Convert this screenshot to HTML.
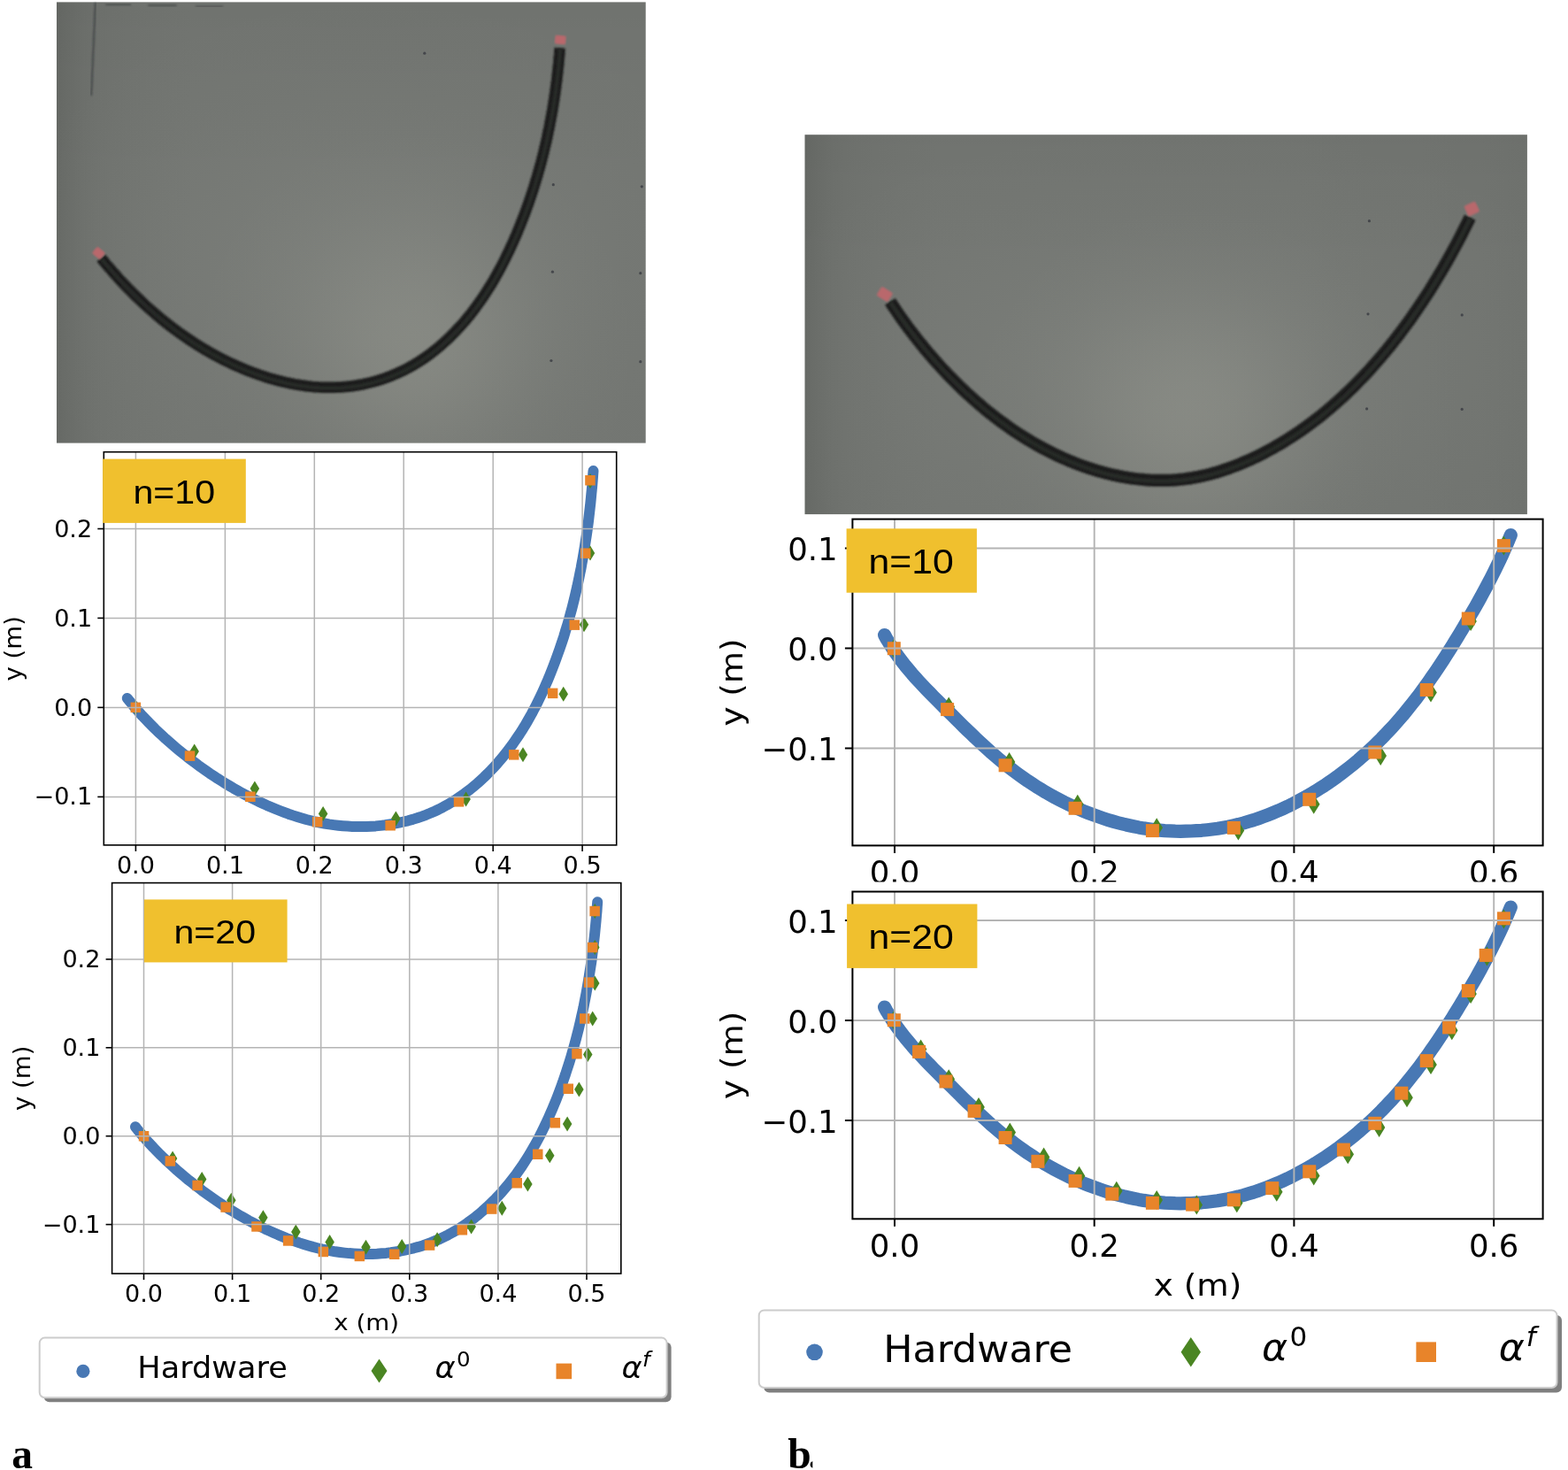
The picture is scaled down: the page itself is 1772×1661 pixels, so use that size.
<!DOCTYPE html>
<html lang="en"><head><meta charset="utf-8"><title>Figure</title>
<style>html,body{margin:0;padding:0;background:#fff}body{width:1772px;height:1661px;overflow:hidden;position:relative}svg{display:block;position:absolute;left:0;top:0}</style>
</head><body>
<svg width="1772" height="1661" viewBox="0 0 1772 1661">
<defs>
<filter id="soft" x="-5%" y="-5%" width="110%" height="110%"><feGaussianBlur stdDeviation="0.8"/></filter><filter id="soft2" x="-5%" y="-5%" width="110%" height="110%"><feGaussianBlur stdDeviation="1.0"/></filter>
<linearGradient id="pag1" x1="0" y1="0" x2="1" y2="0"><stop offset="0.0000" stop-color="#666965"/><stop offset="0.0150" stop-color="#696c68"/><stop offset="0.0300" stop-color="#6b6e6a"/><stop offset="0.0451" stop-color="#6d706c"/><stop offset="0.0676" stop-color="#6f726e"/><stop offset="0.0901" stop-color="#70736f"/><stop offset="0.1202" stop-color="#717470"/><stop offset="0.1652" stop-color="#727571"/><stop offset="0.2253" stop-color="#737672"/><stop offset="0.3004" stop-color="#737672"/><stop offset="0.3906" stop-color="#737672"/><stop offset="0.5107" stop-color="#737672"/><stop offset="0.6000" stop-color="#737672"/><stop offset="0.6094" stop-color="#737672"/><stop offset="0.7296" stop-color="#737672"/><stop offset="0.8197" stop-color="#737672"/><stop offset="0.8798" stop-color="#737672"/><stop offset="0.9249" stop-color="#737672"/><stop offset="0.9624" stop-color="#737672"/><stop offset="1.0000" stop-color="#737672"/></linearGradient>
<radialGradient id="pag2" gradientUnits="userSpaceOnUse" cx="470" cy="395" r="270"><stop offset="0.000" stop-color="#b8b9ac" stop-opacity="0.210"/><stop offset="0.083" stop-color="#b8b9ac" stop-opacity="0.203"/><stop offset="0.167" stop-color="#b8b9ac" stop-opacity="0.185"/><stop offset="0.250" stop-color="#b8b9ac" stop-opacity="0.158"/><stop offset="0.333" stop-color="#b8b9ac" stop-opacity="0.126"/><stop offset="0.417" stop-color="#b8b9ac" stop-opacity="0.095"/><stop offset="0.500" stop-color="#b8b9ac" stop-opacity="0.067"/><stop offset="0.583" stop-color="#b8b9ac" stop-opacity="0.044"/><stop offset="0.667" stop-color="#b8b9ac" stop-opacity="0.026"/><stop offset="0.750" stop-color="#b8b9ac" stop-opacity="0.015"/><stop offset="0.833" stop-color="#b8b9ac" stop-opacity="0.007"/><stop offset="0.917" stop-color="#b8b9ac" stop-opacity="0.002"/><stop offset="1.000" stop-color="#b8b9ac" stop-opacity="0.000"/></radialGradient>
<linearGradient id="pag3" x1="0" y1="0" x2="0" y2="1"><stop offset="0.000" stop-color="#000" stop-opacity="0.030"/><stop offset="0.040" stop-color="#000" stop-opacity="0.024"/><stop offset="0.080" stop-color="#000" stop-opacity="0.019"/><stop offset="0.141" stop-color="#000" stop-opacity="0.014"/><stop offset="0.221" stop-color="#000" stop-opacity="0.009"/><stop offset="0.321" stop-color="#000" stop-opacity="0.005"/><stop offset="0.462" stop-color="#000" stop-opacity="0.002"/><stop offset="0.643" stop-color="#000" stop-opacity="0.001"/><stop offset="1" stop-color="#000" stop-opacity="0"/></linearGradient>
<radialGradient id="pag4" gradientUnits="userSpaceOnUse" cx="420" cy="300" r="420" gradientTransform="translate(420 300) scale(1.2 0.85) translate(-420 -300)"><stop offset="0.000" stop-color="#c0c2ba" stop-opacity="0.100"/><stop offset="0.083" stop-color="#c0c2ba" stop-opacity="0.097"/><stop offset="0.167" stop-color="#c0c2ba" stop-opacity="0.088"/><stop offset="0.250" stop-color="#c0c2ba" stop-opacity="0.075"/><stop offset="0.333" stop-color="#c0c2ba" stop-opacity="0.060"/><stop offset="0.417" stop-color="#c0c2ba" stop-opacity="0.045"/><stop offset="0.500" stop-color="#c0c2ba" stop-opacity="0.032"/><stop offset="0.583" stop-color="#c0c2ba" stop-opacity="0.021"/><stop offset="0.667" stop-color="#c0c2ba" stop-opacity="0.013"/><stop offset="0.750" stop-color="#c0c2ba" stop-opacity="0.007"/><stop offset="0.833" stop-color="#c0c2ba" stop-opacity="0.003"/><stop offset="0.917" stop-color="#c0c2ba" stop-opacity="0.001"/><stop offset="1.000" stop-color="#c0c2ba" stop-opacity="0.000"/></radialGradient>
<linearGradient id="pbg1" x1="0" y1="0" x2="1" y2="0"><stop offset="0.0000" stop-color="#666965"/><stop offset="0.0122" stop-color="#696c68"/><stop offset="0.0245" stop-color="#6b6e6a"/><stop offset="0.0367" stop-color="#6d706c"/><stop offset="0.0551" stop-color="#6f726e"/><stop offset="0.0735" stop-color="#70736f"/><stop offset="0.0980" stop-color="#717470"/><stop offset="0.1347" stop-color="#727571"/><stop offset="0.1837" stop-color="#737672"/><stop offset="0.2450" stop-color="#737672"/><stop offset="0.3185" stop-color="#737672"/><stop offset="0.4165" stop-color="#737672"/><stop offset="0.6000" stop-color="#737672"/><stop offset="0.6815" stop-color="#737672"/><stop offset="0.7795" stop-color="#727571"/><stop offset="0.8530" stop-color="#727571"/><stop offset="0.9020" stop-color="#717470"/><stop offset="0.9388" stop-color="#717470"/><stop offset="0.9694" stop-color="#70736f"/><stop offset="1.0000" stop-color="#6f726e"/></linearGradient>
<radialGradient id="pbg2" gradientUnits="userSpaceOnUse" cx="1345" cy="480" r="270"><stop offset="0.000" stop-color="#b8b9ac" stop-opacity="0.210"/><stop offset="0.083" stop-color="#b8b9ac" stop-opacity="0.203"/><stop offset="0.167" stop-color="#b8b9ac" stop-opacity="0.185"/><stop offset="0.250" stop-color="#b8b9ac" stop-opacity="0.158"/><stop offset="0.333" stop-color="#b8b9ac" stop-opacity="0.126"/><stop offset="0.417" stop-color="#b8b9ac" stop-opacity="0.095"/><stop offset="0.500" stop-color="#b8b9ac" stop-opacity="0.067"/><stop offset="0.583" stop-color="#b8b9ac" stop-opacity="0.044"/><stop offset="0.667" stop-color="#b8b9ac" stop-opacity="0.026"/><stop offset="0.750" stop-color="#b8b9ac" stop-opacity="0.015"/><stop offset="0.833" stop-color="#b8b9ac" stop-opacity="0.007"/><stop offset="0.917" stop-color="#b8b9ac" stop-opacity="0.002"/><stop offset="1.000" stop-color="#b8b9ac" stop-opacity="0.000"/></radialGradient>
<linearGradient id="pbg3" x1="0" y1="0" x2="0" y2="1"><stop offset="0.000" stop-color="#000" stop-opacity="0.025"/><stop offset="0.047" stop-color="#000" stop-opacity="0.019"/><stop offset="0.093" stop-color="#000" stop-opacity="0.014"/><stop offset="0.163" stop-color="#000" stop-opacity="0.009"/><stop offset="0.256" stop-color="#000" stop-opacity="0.005"/><stop offset="0.373" stop-color="#000" stop-opacity="0.003"/><stop offset="0.536" stop-color="#000" stop-opacity="0.001"/><stop offset="0.746" stop-color="#000" stop-opacity="0.000"/><stop offset="1" stop-color="#000" stop-opacity="0"/></linearGradient>
<radialGradient id="pbg4" gradientUnits="userSpaceOnUse" cx="1330" cy="410" r="420" gradientTransform="translate(1330 410) scale(1.45 0.75) translate(-1330 -410)"><stop offset="0.000" stop-color="#c0c2ba" stop-opacity="0.100"/><stop offset="0.083" stop-color="#c0c2ba" stop-opacity="0.097"/><stop offset="0.167" stop-color="#c0c2ba" stop-opacity="0.088"/><stop offset="0.250" stop-color="#c0c2ba" stop-opacity="0.075"/><stop offset="0.333" stop-color="#c0c2ba" stop-opacity="0.060"/><stop offset="0.417" stop-color="#c0c2ba" stop-opacity="0.045"/><stop offset="0.500" stop-color="#c0c2ba" stop-opacity="0.032"/><stop offset="0.583" stop-color="#c0c2ba" stop-opacity="0.021"/><stop offset="0.667" stop-color="#c0c2ba" stop-opacity="0.013"/><stop offset="0.750" stop-color="#c0c2ba" stop-opacity="0.007"/><stop offset="0.833" stop-color="#c0c2ba" stop-opacity="0.003"/><stop offset="0.917" stop-color="#c0c2ba" stop-opacity="0.001"/><stop offset="1.000" stop-color="#c0c2ba" stop-opacity="0.000"/></radialGradient>
</defs>
<rect width="1772" height="1661" fill="#fff"/>
<g>
<rect x="64" y="2.4" width="665.7" height="498.20000000000005" fill="url(#pag1)"/>
<rect x="64" y="2.4" width="665.7" height="498.20000000000005" fill="url(#pag2)"/>
<rect x="64" y="2.4" width="665.7" height="498.20000000000005" fill="url(#pag3)"/>
<rect x="64" y="2.4" width="665.7" height="498.20000000000005" fill="url(#pag4)"/>
<line x1="107.8" y1="3" x2="103.2" y2="108" stroke="#2a2c30" stroke-width="1.4" opacity="0.8" filter="url(#soft)"/><path d="M119.5,5 H148 M167.5,6 H199.5 M221,7.3 H252" stroke="#2e3034" stroke-width="1.8" opacity="0.55" fill="none" filter="url(#soft)"/>
<circle cx="479.8" cy="60.2" r="1.6" fill="#3c3e44" opacity="0.85"/>
<circle cx="625.3" cy="208.7" r="1.6" fill="#3c3e44" opacity="0.85"/>
<circle cx="624.4" cy="307.2" r="1.6" fill="#3c3e44" opacity="0.85"/>
<circle cx="622.9" cy="407.5" r="1.6" fill="#3c3e44" opacity="0.85"/>
<circle cx="725.3" cy="210.8" r="1.6" fill="#3c3e44" opacity="0.85"/>
<circle cx="723.8" cy="308.7" r="1.6" fill="#3c3e44" opacity="0.85"/>
<circle cx="723.8" cy="408.7" r="1.6" fill="#3c3e44" opacity="0.85"/>
<path d="M114.3,291.6 L116.9,294.8 L119.5,298.0 L122.2,301.1 L124.9,304.2 L127.6,307.3 L130.3,310.3 L133.0,313.4 L135.8,316.4 L138.6,319.4 L141.4,322.3 L144.2,325.3 L147.1,328.2 L150.0,331.1 L152.9,334.0 L155.8,336.8 L158.7,339.6 L161.7,342.4 L164.7,345.2 L167.7,347.9 L170.8,350.6 L173.9,353.3 L177.0,356.0 L180.1,358.6 L183.2,361.2 L186.4,363.7 L189.6,366.2 L192.8,368.7 L196.1,371.2 L199.3,373.6 L202.6,376.0 L206.0,378.4 L209.3,380.7 L212.7,383.0 L216.1,385.3 L219.5,387.5 L222.9,389.7 L226.4,391.8 L229.9,394.0 L233.4,396.0 L237.0,398.1 L240.5,400.1 L244.1,402.0 L247.8,404.0 L251.4,405.8 L255.1,407.7 L258.8,409.5 L262.5,411.2 L266.3,413.0 L270.0,414.6 L273.8,416.2 L277.6,417.8 L281.5,419.3 L285.3,420.8 L289.2,422.2 L293.1,423.6 L297.0,424.9 L300.9,426.2 L304.9,427.4 L308.8,428.5 L312.8,429.6 L316.8,430.6 L320.8,431.6 L324.8,432.5 L328.8,433.3 L332.8,434.1 L336.8,434.8 L340.8,435.4 L344.9,436.0 L348.9,436.5 L353.0,436.9 L357.0,437.2 L361.1,437.5 L365.1,437.7 L369.2,437.8 L373.2,437.8 L377.3,437.8 L381.3,437.6 L385.4,437.4 L389.4,437.1 L393.4,436.7 L397.5,436.2 L401.5,435.7 L405.5,435.0 L409.5,434.3 L413.5,433.4 L417.5,432.5 L421.4,431.5 L425.3,430.4 L429.3,429.2 L433.2,428.0 L437.0,426.6 L440.9,425.2 L444.7,423.6 L448.4,422.0 L452.2,420.3 L455.8,418.6 L459.5,416.7 L463.1,414.8 L466.7,412.8 L470.2,410.7 L473.7,408.5 L477.1,406.3 L480.5,404.0 L483.8,401.6 L487.1,399.2 L490.3,396.6 L493.5,394.1 L496.7,391.5 L499.8,388.8 L502.8,386.0 L505.8,383.3 L508.8,380.4 L511.7,377.5 L514.6,374.6 L517.4,371.6 L520.2,368.6 L522.9,365.6 L525.6,362.5 L528.2,359.3 L530.8,356.2 L533.3,352.9 L535.8,349.7 L538.2,346.4 L540.6,343.1 L543.0,339.8 L545.3,336.4 L547.6,333.0 L549.8,329.6 L552.0,326.1 L554.2,322.7 L556.3,319.2 L558.4,315.6 L560.4,312.1 L562.4,308.5 L564.4,304.9 L566.3,301.3 L568.2,297.7 L570.1,294.0 L571.9,290.3 L573.7,286.6 L575.5,282.9 L577.2,279.2 L578.9,275.5 L580.6,271.7 L582.2,268.0 L583.9,264.2 L585.4,260.4 L587.0,256.6 L588.5,252.9 L590.0,249.0 L591.5,245.2 L593.0,241.4 L594.4,237.6 L595.8,233.7 L597.2,229.9 L598.5,226.0 L599.8,222.2 L601.1,218.3 L602.4,214.4 L603.6,210.5 L604.8,206.6 L606.0,202.7 L607.2,198.8 L608.3,194.9 L609.4,191.0 L610.5,187.0 L611.6,183.1 L612.6,179.1 L613.6,175.2 L614.6,171.2 L615.5,167.2 L616.5,163.3 L617.4,159.3 L618.3,155.3 L619.1,151.3 L619.9,147.3 L620.8,143.3 L621.5,139.3 L622.3,135.3 L623.0,131.3 L623.8,127.3 L624.5,123.2 L625.1,119.2 L625.8,115.2 L626.4,111.1 L627.0,107.1 L627.6,103.0 L628.1,99.0 L628.6,94.9 L629.2,90.9 L629.6,86.8 L630.1,82.7 L630.5,78.7 L631.0,74.6 L631.4,70.5 L631.7,66.4 L632.1,62.3 L632.4,58.3 L632.7,54.2" fill="none" stroke="#1a1c1b" stroke-width="12.5" stroke-linecap="butt" stroke-linejoin="round" filter="url(#soft2)"/>
<path d="M114.3,291.6 L116.9,294.8 L119.5,298.0 L122.2,301.1 L124.9,304.2 L127.6,307.3 L130.3,310.3 L133.0,313.4 L135.8,316.4 L138.6,319.4 L141.4,322.3 L144.2,325.3 L147.1,328.2 L150.0,331.1 L152.9,334.0 L155.8,336.8 L158.7,339.6 L161.7,342.4 L164.7,345.2 L167.7,347.9 L170.8,350.6 L173.9,353.3 L177.0,356.0 L180.1,358.6 L183.2,361.2 L186.4,363.7 L189.6,366.2 L192.8,368.7 L196.1,371.2 L199.3,373.6 L202.6,376.0 L206.0,378.4 L209.3,380.7 L212.7,383.0 L216.1,385.3 L219.5,387.5 L222.9,389.7 L226.4,391.8 L229.9,394.0 L233.4,396.0 L237.0,398.1 L240.5,400.1 L244.1,402.0 L247.8,404.0 L251.4,405.8 L255.1,407.7 L258.8,409.5 L262.5,411.2 L266.3,413.0 L270.0,414.6 L273.8,416.2 L277.6,417.8 L281.5,419.3 L285.3,420.8 L289.2,422.2 L293.1,423.6 L297.0,424.9 L300.9,426.2 L304.9,427.4 L308.8,428.5 L312.8,429.6 L316.8,430.6 L320.8,431.6 L324.8,432.5 L328.8,433.3 L332.8,434.1 L336.8,434.8 L340.8,435.4 L344.9,436.0 L348.9,436.5 L353.0,436.9 L357.0,437.2 L361.1,437.5 L365.1,437.7 L369.2,437.8 L373.2,437.8 L377.3,437.8 L381.3,437.6 L385.4,437.4 L389.4,437.1 L393.4,436.7 L397.5,436.2 L401.5,435.7 L405.5,435.0 L409.5,434.3 L413.5,433.4 L417.5,432.5 L421.4,431.5 L425.3,430.4 L429.3,429.2 L433.2,428.0 L437.0,426.6 L440.9,425.2 L444.7,423.6 L448.4,422.0 L452.2,420.3 L455.8,418.6 L459.5,416.7 L463.1,414.8 L466.7,412.8 L470.2,410.7 L473.7,408.5 L477.1,406.3 L480.5,404.0 L483.8,401.6 L487.1,399.2 L490.3,396.6 L493.5,394.1 L496.7,391.5 L499.8,388.8 L502.8,386.0 L505.8,383.3 L508.8,380.4 L511.7,377.5 L514.6,374.6 L517.4,371.6 L520.2,368.6 L522.9,365.6 L525.6,362.5 L528.2,359.3 L530.8,356.2 L533.3,352.9 L535.8,349.7 L538.2,346.4 L540.6,343.1 L543.0,339.8 L545.3,336.4 L547.6,333.0 L549.8,329.6 L552.0,326.1 L554.2,322.7 L556.3,319.2 L558.4,315.6 L560.4,312.1 L562.4,308.5 L564.4,304.9 L566.3,301.3 L568.2,297.7 L570.1,294.0 L571.9,290.3 L573.7,286.6 L575.5,282.9 L577.2,279.2 L578.9,275.5 L580.6,271.7 L582.2,268.0 L583.9,264.2 L585.4,260.4 L587.0,256.6 L588.5,252.9 L590.0,249.0 L591.5,245.2 L593.0,241.4 L594.4,237.6 L595.8,233.7 L597.2,229.9 L598.5,226.0 L599.8,222.2 L601.1,218.3 L602.4,214.4 L603.6,210.5 L604.8,206.6 L606.0,202.7 L607.2,198.8 L608.3,194.9 L609.4,191.0 L610.5,187.0 L611.6,183.1 L612.6,179.1 L613.6,175.2 L614.6,171.2 L615.5,167.2 L616.5,163.3 L617.4,159.3 L618.3,155.3 L619.1,151.3 L619.9,147.3 L620.8,143.3 L621.5,139.3 L622.3,135.3 L623.0,131.3 L623.8,127.3 L624.5,123.2 L625.1,119.2 L625.8,115.2 L626.4,111.1 L627.0,107.1 L627.6,103.0 L628.1,99.0 L628.6,94.9 L629.2,90.9 L629.6,86.8 L630.1,82.7 L630.5,78.7 L631.0,74.6 L631.4,70.5 L631.7,66.4 L632.1,62.3 L632.4,58.3 L632.7,54.2" fill="none" stroke="#262927" stroke-width="4.4" stroke-linecap="butt" stroke-linejoin="round" filter="url(#soft2)" transform="translate(0.4,0.8)"/>
<rect x="-6.0" y="-5.0" width="12" height="10" rx="2" fill="#b9686c" transform="translate(111.5,286) rotate(40)" filter="url(#soft)"/>
<rect x="-6.25" y="-5.0" width="12.5" height="10" rx="2" fill="#b9686c" transform="translate(633.3,45) rotate(5)" filter="url(#soft)"/>
</g>
<g>
<rect x="909.5" y="152.2" width="816.4000000000001" height="428.90000000000003" fill="url(#pbg1)"/>
<rect x="909.5" y="152.2" width="816.4000000000001" height="428.90000000000003" fill="url(#pbg2)"/>
<rect x="909.5" y="152.2" width="816.4000000000001" height="428.90000000000003" fill="url(#pbg3)"/>
<rect x="909.5" y="152.2" width="816.4000000000001" height="428.90000000000003" fill="url(#pbg4)"/>

<circle cx="1547.4" cy="249.7" r="1.6" fill="#3c3e44" opacity="0.85"/>
<circle cx="1546" cy="354.8" r="1.6" fill="#3c3e44" opacity="0.85"/>
<circle cx="1544.6" cy="461.9" r="1.6" fill="#3c3e44" opacity="0.85"/>
<circle cx="1652.2" cy="355.9" r="1.6" fill="#3c3e44" opacity="0.85"/>
<circle cx="1652.2" cy="462.4" r="1.6" fill="#3c3e44" opacity="0.85"/>
<path d="M1006.0,340.8 L1008.2,344.3 L1010.6,347.8 L1012.9,351.2 L1015.3,354.7 L1017.7,358.2 L1020.1,361.6 L1022.6,365.0 L1025.1,368.5 L1027.7,371.9 L1030.3,375.3 L1032.9,378.7 L1035.5,382.1 L1038.2,385.5 L1040.9,388.8 L1043.6,392.2 L1046.3,395.5 L1049.1,398.8 L1052.0,402.1 L1054.8,405.4 L1057.7,408.7 L1060.6,411.9 L1063.5,415.1 L1066.5,418.3 L1069.5,421.5 L1072.5,424.7 L1075.6,427.8 L1078.7,430.9 L1081.8,434.0 L1084.9,437.1 L1088.1,440.1 L1091.3,443.1 L1094.5,446.1 L1097.8,449.0 L1101.0,451.9 L1104.3,454.8 L1107.7,457.7 L1111.0,460.5 L1114.4,463.3 L1117.8,466.1 L1121.3,468.8 L1124.7,471.5 L1128.2,474.1 L1131.8,476.8 L1135.3,479.3 L1138.9,481.9 L1142.5,484.4 L1146.1,486.9 L1149.7,489.3 L1153.4,491.7 L1157.1,494.0 L1160.8,496.3 L1164.5,498.5 L1168.3,500.7 L1172.1,502.9 L1175.9,505.0 L1179.7,507.1 L1183.6,509.1 L1187.5,511.1 L1191.4,513.0 L1195.3,514.9 L1199.2,516.7 L1203.2,518.4 L1207.2,520.2 L1211.2,521.8 L1215.3,523.4 L1219.3,525.0 L1223.4,526.5 L1227.5,527.9 L1231.6,529.3 L1235.8,530.6 L1239.9,531.9 L1244.1,533.1 L1248.3,534.2 L1252.5,535.3 L1256.7,536.3 L1260.9,537.2 L1265.2,538.1 L1269.4,538.9 L1273.7,539.6 L1278.0,540.3 L1282.2,540.9 L1286.5,541.4 L1290.8,541.8 L1295.1,542.2 L1299.4,542.5 L1303.7,542.7 L1308.0,542.8 L1312.2,542.8 L1316.5,542.8 L1320.8,542.7 L1325.1,542.5 L1329.4,542.2 L1333.7,541.8 L1337.9,541.4 L1342.2,540.8 L1346.4,540.2 L1350.6,539.4 L1354.9,538.6 L1359.1,537.7 L1363.3,536.7 L1367.5,535.7 L1371.6,534.6 L1375.8,533.4 L1379.9,532.1 L1384.0,530.7 L1388.1,529.3 L1392.2,527.8 L1396.3,526.3 L1400.3,524.7 L1404.3,523.0 L1408.3,521.3 L1412.3,519.6 L1416.2,517.7 L1420.2,515.9 L1424.1,513.9 L1427.9,512.0 L1431.8,509.9 L1435.6,507.9 L1439.4,505.8 L1443.1,503.6 L1446.9,501.5 L1450.6,499.2 L1454.3,496.9 L1457.9,494.6 L1461.6,492.3 L1465.2,489.9 L1468.8,487.5 L1472.3,485.0 L1475.8,482.5 L1479.3,479.9 L1482.8,477.3 L1486.3,474.7 L1489.7,472.1 L1493.1,469.4 L1496.5,466.6 L1499.8,463.9 L1503.1,461.1 L1506.4,458.2 L1509.7,455.4 L1512.9,452.5 L1516.2,449.6 L1519.3,446.6 L1522.5,443.6 L1525.7,440.6 L1528.8,437.6 L1531.9,434.5 L1534.9,431.4 L1538.0,428.2 L1541.0,425.1 L1544.0,421.9 L1547.0,418.7 L1549.9,415.5 L1552.8,412.2 L1555.7,408.9 L1558.6,405.6 L1561.4,402.3 L1564.2,399.0 L1567.0,395.6 L1569.8,392.2 L1572.6,388.8 L1575.3,385.3 L1578.0,381.9 L1580.7,378.4 L1583.3,374.9 L1585.9,371.4 L1588.5,367.9 L1591.1,364.4 L1593.7,360.8 L1596.2,357.2 L1598.7,353.6 L1601.2,350.0 L1603.6,346.4 L1606.1,342.8 L1608.5,339.2 L1610.9,335.5 L1613.2,331.9 L1615.6,328.2 L1617.9,324.5 L1620.2,320.8 L1622.4,317.1 L1624.7,313.4 L1626.9,309.7 L1629.1,306.0 L1631.3,302.2 L1633.4,298.5 L1635.6,294.7 L1637.7,291.0 L1639.8,287.2 L1641.8,283.5 L1643.9,279.7 L1645.9,276.0 L1647.9,272.2 L1649.9,268.4 L1651.8,264.7 L1653.7,260.9 L1655.6,257.1 L1657.5,253.4 L1659.4,249.6 L1661.2,245.8" fill="none" stroke="#1a1c1b" stroke-width="14" stroke-linecap="butt" stroke-linejoin="round" filter="url(#soft2)"/>
<path d="M1006.0,340.8 L1008.2,344.3 L1010.6,347.8 L1012.9,351.2 L1015.3,354.7 L1017.7,358.2 L1020.1,361.6 L1022.6,365.0 L1025.1,368.5 L1027.7,371.9 L1030.3,375.3 L1032.9,378.7 L1035.5,382.1 L1038.2,385.5 L1040.9,388.8 L1043.6,392.2 L1046.3,395.5 L1049.1,398.8 L1052.0,402.1 L1054.8,405.4 L1057.7,408.7 L1060.6,411.9 L1063.5,415.1 L1066.5,418.3 L1069.5,421.5 L1072.5,424.7 L1075.6,427.8 L1078.7,430.9 L1081.8,434.0 L1084.9,437.1 L1088.1,440.1 L1091.3,443.1 L1094.5,446.1 L1097.8,449.0 L1101.0,451.9 L1104.3,454.8 L1107.7,457.7 L1111.0,460.5 L1114.4,463.3 L1117.8,466.1 L1121.3,468.8 L1124.7,471.5 L1128.2,474.1 L1131.8,476.8 L1135.3,479.3 L1138.9,481.9 L1142.5,484.4 L1146.1,486.9 L1149.7,489.3 L1153.4,491.7 L1157.1,494.0 L1160.8,496.3 L1164.5,498.5 L1168.3,500.7 L1172.1,502.9 L1175.9,505.0 L1179.7,507.1 L1183.6,509.1 L1187.5,511.1 L1191.4,513.0 L1195.3,514.9 L1199.2,516.7 L1203.2,518.4 L1207.2,520.2 L1211.2,521.8 L1215.3,523.4 L1219.3,525.0 L1223.4,526.5 L1227.5,527.9 L1231.6,529.3 L1235.8,530.6 L1239.9,531.9 L1244.1,533.1 L1248.3,534.2 L1252.5,535.3 L1256.7,536.3 L1260.9,537.2 L1265.2,538.1 L1269.4,538.9 L1273.7,539.6 L1278.0,540.3 L1282.2,540.9 L1286.5,541.4 L1290.8,541.8 L1295.1,542.2 L1299.4,542.5 L1303.7,542.7 L1308.0,542.8 L1312.2,542.8 L1316.5,542.8 L1320.8,542.7 L1325.1,542.5 L1329.4,542.2 L1333.7,541.8 L1337.9,541.4 L1342.2,540.8 L1346.4,540.2 L1350.6,539.4 L1354.9,538.6 L1359.1,537.7 L1363.3,536.7 L1367.5,535.7 L1371.6,534.6 L1375.8,533.4 L1379.9,532.1 L1384.0,530.7 L1388.1,529.3 L1392.2,527.8 L1396.3,526.3 L1400.3,524.7 L1404.3,523.0 L1408.3,521.3 L1412.3,519.6 L1416.2,517.7 L1420.2,515.9 L1424.1,513.9 L1427.9,512.0 L1431.8,509.9 L1435.6,507.9 L1439.4,505.8 L1443.1,503.6 L1446.9,501.5 L1450.6,499.2 L1454.3,496.9 L1457.9,494.6 L1461.6,492.3 L1465.2,489.9 L1468.8,487.5 L1472.3,485.0 L1475.8,482.5 L1479.3,479.9 L1482.8,477.3 L1486.3,474.7 L1489.7,472.1 L1493.1,469.4 L1496.5,466.6 L1499.8,463.9 L1503.1,461.1 L1506.4,458.2 L1509.7,455.4 L1512.9,452.5 L1516.2,449.6 L1519.3,446.6 L1522.5,443.6 L1525.7,440.6 L1528.8,437.6 L1531.9,434.5 L1534.9,431.4 L1538.0,428.2 L1541.0,425.1 L1544.0,421.9 L1547.0,418.7 L1549.9,415.5 L1552.8,412.2 L1555.7,408.9 L1558.6,405.6 L1561.4,402.3 L1564.2,399.0 L1567.0,395.6 L1569.8,392.2 L1572.6,388.8 L1575.3,385.3 L1578.0,381.9 L1580.7,378.4 L1583.3,374.9 L1585.9,371.4 L1588.5,367.9 L1591.1,364.4 L1593.7,360.8 L1596.2,357.2 L1598.7,353.6 L1601.2,350.0 L1603.6,346.4 L1606.1,342.8 L1608.5,339.2 L1610.9,335.5 L1613.2,331.9 L1615.6,328.2 L1617.9,324.5 L1620.2,320.8 L1622.4,317.1 L1624.7,313.4 L1626.9,309.7 L1629.1,306.0 L1631.3,302.2 L1633.4,298.5 L1635.6,294.7 L1637.7,291.0 L1639.8,287.2 L1641.8,283.5 L1643.9,279.7 L1645.9,276.0 L1647.9,272.2 L1649.9,268.4 L1651.8,264.7 L1653.7,260.9 L1655.6,257.1 L1657.5,253.4 L1659.4,249.6 L1661.2,245.8" fill="none" stroke="#262927" stroke-width="4.9" stroke-linecap="butt" stroke-linejoin="round" filter="url(#soft2)" transform="translate(0.4,0.8)"/>
<rect x="-7.5" y="-6.0" width="15" height="12" rx="2" fill="#b9686c" transform="translate(999.8,332.5) rotate(32)" filter="url(#soft)"/>
<rect x="-7.0" y="-6.5" width="14" height="13" rx="2" fill="#b9686c" transform="translate(1663.3,236) rotate(-25)" filter="url(#soft)"/>
</g>
<g font-family="DejaVu Sans, sans-serif" font-size="26.5" fill="#000">
<rect x="117.3" y="510.7" width="579.4000000000001" height="444.2" fill="#fff"/>
<path d="M143.8,788.9 L147.1,793.0 L150.4,797.0 L153.9,801.0 L157.4,805.0 L160.9,808.9 L164.5,812.7 L168.2,816.5 L171.9,820.3 L175.6,824.0 L179.4,827.6 L183.3,831.2 L187.2,834.8 L191.2,838.3 L195.2,841.8 L199.2,845.2 L203.3,848.6 L207.4,851.9 L211.5,855.2 L215.7,858.4 L219.9,861.6 L224.2,864.8 L228.5,867.8 L232.8,870.9 L237.1,873.9 L241.5,876.8 L245.9,879.7 L250.4,882.5 L254.9,885.3 L259.4,888.0 L263.9,890.7 L268.5,893.3 L273.1,895.9 L277.8,898.3 L282.5,900.8 L287.2,903.1 L291.9,905.5 L296.7,907.7 L301.5,909.9 L306.4,912.0 L311.2,914.0 L316.2,916.0 L321.1,917.9 L326.0,919.7 L331.0,921.4 L336.1,923.0 L341.1,924.5 L346.2,926.0 L351.3,927.3 L356.4,928.5 L361.5,929.5 L366.7,930.5 L371.9,931.4 L377.1,932.1 L382.3,932.7 L387.5,933.2 L392.8,933.6 L398.1,933.9 L403.4,934.0 L408.7,934.1 L414.0,934.0 L419.3,933.7 L424.6,933.4 L429.9,932.9 L435.2,932.3 L440.5,931.5 L445.7,930.7 L451.0,929.7 L456.1,928.5 L461.3,927.3 L466.4,925.9 L471.5,924.3 L476.5,922.6 L481.4,920.8 L486.3,918.8 L491.1,916.7 L495.8,914.5 L500.5,912.1 L505.1,909.6 L509.6,906.9 L514.1,904.2 L518.4,901.3 L522.8,898.3 L527.0,895.2 L531.2,892.0 L535.3,888.6 L539.3,885.2 L543.2,881.7 L547.1,878.1 L550.9,874.4 L554.6,870.6 L558.2,866.8 L561.8,862.9 L565.2,858.9 L568.6,854.8 L572.0,850.6 L575.2,846.4 L578.4,842.2 L581.4,837.9 L584.4,833.5 L587.4,829.1 L590.2,824.7 L593.0,820.2 L595.7,815.6 L598.3,811.0 L600.9,806.4 L603.3,801.8 L605.8,797.1 L608.1,792.3 L610.4,787.6 L612.7,782.8 L614.9,778.0 L617.0,773.2 L619.1,768.3 L621.1,763.4 L623.1,758.5 L625.0,753.6 L626.9,748.7 L628.7,743.7 L630.5,738.8 L632.3,733.8 L634.0,728.8 L635.7,723.8 L637.3,718.8 L638.8,713.7 L640.4,708.7 L641.9,703.6 L643.3,698.5 L644.7,693.4 L646.1,688.3 L647.4,683.2 L648.7,678.1 L649.9,673.0 L651.1,667.8 L652.3,662.7 L653.4,657.5 L654.5,652.3 L655.5,647.1 L656.6,641.9 L657.5,636.8 L658.5,631.5 L659.4,626.3 L660.3,621.1 L661.1,615.9 L661.9,610.7 L662.7,605.5 L663.5,600.2 L664.2,595.0 L664.9,589.8 L665.5,584.5 L666.1,579.3 L666.7,574.0 L667.3,568.8 L667.8,563.5 L668.3,558.3 L668.8,553.0 L669.3,547.8 L669.7,542.6 L670.1,537.3 L670.5,532.1" fill="none" stroke="#4878b4" stroke-width="12" stroke-linecap="round" stroke-linejoin="round"/>
<path d="M153.3,790.9 L158.6,799.4 L153.3,807.9 L148.1,799.4Z" fill="#4a8522"/>
<path d="M219.7,840.4 L224.9,848.9 L219.7,857.4 L214.4,848.9Z" fill="#4a8522"/>
<path d="M287.9,882.4 L293.1,890.9 L287.9,899.4 L282.6,890.9Z" fill="#4a8522"/>
<path d="M365.1,911.0 L370.4,919.5 L365.1,928.0 L359.9,919.5Z" fill="#4a8522"/>
<path d="M447.4,916.6 L452.6,925.1 L447.4,933.6 L442.1,925.1Z" fill="#4a8522"/>
<path d="M526.6,894.6 L531.9,903.1 L526.6,911.6 L521.4,903.1Z" fill="#4a8522"/>
<path d="M591.0,844.3 L596.2,852.8 L591.0,861.3 L585.8,852.8Z" fill="#4a8522"/>
<path d="M636.7,775.7 L642.0,784.2 L636.7,792.7 L631.5,784.2Z" fill="#4a8522"/>
<path d="M660.0,697.2 L665.2,705.7 L660.0,714.2 L654.8,705.7Z" fill="#4a8522"/>
<path d="M667.0,616.6 L672.2,625.1 L667.0,633.6 L661.8,625.1Z" fill="#4a8522"/>
<path d="M667.0,535.0 L672.2,543.5 L667.0,552.0 L661.8,543.5Z" fill="#4a8522"/>
<rect x="147.6" y="793.6" width="11.5" height="11.5" fill="#e8842a"/>
<rect x="208.8" y="848.4" width="11.5" height="11.5" fill="#e8842a"/>
<rect x="277.1" y="894.5" width="11.5" height="11.5" fill="#e8842a"/>
<rect x="352.9" y="923.0" width="11.5" height="11.5" fill="#e8842a"/>
<rect x="435.4" y="927.0" width="11.5" height="11.5" fill="#e8842a"/>
<rect x="512.8" y="900.1" width="11.5" height="11.5" fill="#e8842a"/>
<rect x="575.0" y="847.1" width="11.5" height="11.5" fill="#e8842a"/>
<rect x="618.9" y="777.6" width="11.5" height="11.5" fill="#e8842a"/>
<rect x="643.5" y="700.4" width="11.5" height="11.5" fill="#e8842a"/>
<rect x="656.0" y="619.4" width="11.5" height="11.5" fill="#e8842a"/>
<rect x="661.2" y="537.0" width="11.5" height="11.5" fill="#e8842a"/>
<line x1="153.4" y1="510.7" x2="153.4" y2="954.9" stroke="#b4b4b4" stroke-width="1.5"/>
<line x1="254.4" y1="510.7" x2="254.4" y2="954.9" stroke="#b4b4b4" stroke-width="1.5"/>
<line x1="355.3" y1="510.7" x2="355.3" y2="954.9" stroke="#b4b4b4" stroke-width="1.5"/>
<line x1="456.2" y1="510.7" x2="456.2" y2="954.9" stroke="#b4b4b4" stroke-width="1.5"/>
<line x1="557.2" y1="510.7" x2="557.2" y2="954.9" stroke="#b4b4b4" stroke-width="1.5"/>
<line x1="658.1" y1="510.7" x2="658.1" y2="954.9" stroke="#b4b4b4" stroke-width="1.5"/>
<line x1="117.3" y1="900.4" x2="696.7" y2="900.4" stroke="#b4b4b4" stroke-width="1.5"/>
<line x1="117.3" y1="799.4" x2="696.7" y2="799.4" stroke="#b4b4b4" stroke-width="1.5"/>
<line x1="117.3" y1="698.4" x2="696.7" y2="698.4" stroke="#b4b4b4" stroke-width="1.5"/>
<line x1="117.3" y1="597.5" x2="696.7" y2="597.5" stroke="#b4b4b4" stroke-width="1.5"/>
<line x1="153.4" y1="954.9" x2="153.4" y2="961.9" stroke="#000" stroke-width="1.6"/>
<line x1="254.4" y1="954.9" x2="254.4" y2="961.9" stroke="#000" stroke-width="1.6"/>
<line x1="355.3" y1="954.9" x2="355.3" y2="961.9" stroke="#000" stroke-width="1.6"/>
<line x1="456.2" y1="954.9" x2="456.2" y2="961.9" stroke="#000" stroke-width="1.6"/>
<line x1="557.2" y1="954.9" x2="557.2" y2="961.9" stroke="#000" stroke-width="1.6"/>
<line x1="658.1" y1="954.9" x2="658.1" y2="961.9" stroke="#000" stroke-width="1.6"/>
<line x1="110.3" y1="900.4" x2="117.3" y2="900.4" stroke="#000" stroke-width="1.6"/>
<line x1="110.3" y1="799.4" x2="117.3" y2="799.4" stroke="#000" stroke-width="1.6"/>
<line x1="110.3" y1="698.4" x2="117.3" y2="698.4" stroke="#000" stroke-width="1.6"/>
<line x1="110.3" y1="597.5" x2="117.3" y2="597.5" stroke="#000" stroke-width="1.6"/>
<rect x="117.3" y="510.7" width="579.4000000000001" height="444.2" fill="none" stroke="#000" stroke-width="1.6"/>
<g>
<text transform="translate(153.4 987.0) scale(1.02 1)" text-anchor="middle">0.0</text>
<text transform="translate(254.4 987.0) scale(1.02 1)" text-anchor="middle">0.1</text>
<text transform="translate(355.3 987.0) scale(1.02 1)" text-anchor="middle">0.2</text>
<text transform="translate(456.2 987.0) scale(1.02 1)" text-anchor="middle">0.3</text>
<text transform="translate(557.2 987.0) scale(1.02 1)" text-anchor="middle">0.4</text>
<text transform="translate(658.1 987.0) scale(1.02 1)" text-anchor="middle">0.5</text>
</g>
<text transform="translate(104.1 909.4) scale(1.02 1)" text-anchor="end">−0.1</text>
<text transform="translate(104.1 808.5) scale(1.02 1)" text-anchor="end">0.0</text>
<text transform="translate(104.1 707.5) scale(1.02 1)" text-anchor="end">0.1</text>
<text transform="translate(104.1 606.6) scale(1.02 1)" text-anchor="end">0.2</text>
<text transform="translate(24.0 732.8) rotate(-90) scale(1.068 1)" font-size="25.8" text-anchor="middle">y (m)</text>
</g>
<g font-family="DejaVu Sans, sans-serif" font-size="26.5" fill="#000">
<rect x="126.6" y="997.6" width="575.1999999999999" height="441.4999999999999" fill="#fff"/>
<path d="M153.0,1273.3 L156.2,1277.4 L159.6,1281.4 L163.0,1285.3 L166.4,1289.2 L170.0,1293.1 L173.5,1296.9 L177.1,1300.6 L180.8,1304.4 L184.6,1308.0 L188.3,1311.6 L192.2,1315.2 L196.0,1318.7 L199.9,1322.2 L203.9,1325.6 L207.9,1329.0 L211.9,1332.4 L216.0,1335.6 L220.1,1338.9 L224.3,1342.1 L228.4,1345.3 L232.7,1348.4 L236.9,1351.4 L241.2,1354.4 L245.5,1357.4 L249.8,1360.3 L254.2,1363.2 L258.6,1366.0 L263.1,1368.7 L267.6,1371.4 L272.1,1374.1 L276.6,1376.6 L281.2,1379.2 L285.8,1381.6 L290.5,1384.0 L295.1,1386.4 L299.8,1388.7 L304.6,1390.9 L309.3,1393.0 L314.1,1395.1 L319.0,1397.1 L323.8,1399.1 L328.7,1400.9 L333.6,1402.7 L338.5,1404.4 L343.5,1406.0 L348.5,1407.5 L353.5,1408.9 L358.6,1410.2 L363.7,1411.4 L368.8,1412.4 L373.9,1413.4 L379.0,1414.3 L384.2,1415.0 L389.4,1415.6 L394.5,1416.1 L399.8,1416.5 L405.0,1416.8 L410.2,1417.0 L415.5,1417.0 L420.8,1416.9 L426.0,1416.7 L431.3,1416.3 L436.5,1415.9 L441.8,1415.3 L447.0,1414.5 L452.2,1413.7 L457.4,1412.7 L462.5,1411.5 L467.6,1410.3 L472.7,1408.9 L477.7,1407.4 L482.6,1405.7 L487.5,1403.9 L492.3,1401.9 L497.1,1399.9 L501.8,1397.6 L506.4,1395.3 L511.0,1392.8 L515.5,1390.2 L519.9,1387.5 L524.2,1384.6 L528.5,1381.7 L532.7,1378.6 L536.9,1375.4 L540.9,1372.2 L544.9,1368.8 L548.8,1365.3 L552.7,1361.8 L556.4,1358.1 L560.1,1354.4 L563.7,1350.6 L567.3,1346.7 L570.7,1342.7 L574.1,1338.7 L577.4,1334.6 L580.6,1330.5 L583.8,1326.3 L586.8,1322.0 L589.8,1317.7 L592.7,1313.3 L595.5,1308.9 L598.3,1304.5 L600.9,1300.0 L603.6,1295.4 L606.1,1290.9 L608.6,1286.2 L611.0,1281.6 L613.3,1276.9 L615.6,1272.2 L617.8,1267.5 L620.0,1262.7 L622.1,1257.9 L624.2,1253.1 L626.2,1248.3 L628.2,1243.4 L630.1,1238.6 L632.0,1233.7 L633.8,1228.8 L635.6,1223.9 L637.3,1218.9 L639.0,1214.0 L640.6,1209.0 L642.2,1204.1 L643.8,1199.1 L645.3,1194.1 L646.8,1189.0 L648.2,1184.0 L649.6,1179.0 L651.0,1173.9 L652.3,1168.8 L653.6,1163.8 L654.8,1158.7 L656.0,1153.6 L657.1,1148.5 L658.3,1143.4 L659.4,1138.3 L660.4,1133.1 L661.4,1128.0 L662.4,1122.8 L663.3,1117.7 L664.2,1112.5 L665.1,1107.4 L665.9,1102.2 L666.7,1097.0 L667.5,1091.8 L668.3,1086.7 L669.0,1081.5 L669.6,1076.3 L670.3,1071.1 L670.9,1065.9 L671.5,1060.7 L672.1,1055.5 L672.6,1050.3 L673.1,1045.1 L673.6,1039.9 L674.0,1034.7 L674.5,1029.5 L674.8,1024.3 L675.2,1019.2" fill="none" stroke="#4878b4" stroke-width="12" stroke-linecap="round" stroke-linejoin="round"/>
<path d="M162.5,1275.2 L167.8,1283.7 L162.5,1292.2 L157.2,1283.7Z" fill="#4a8522"/>
<path d="M195.1,1300.6 L200.3,1309.1 L195.1,1317.6 L189.8,1309.1Z" fill="#4a8522"/>
<path d="M228.2,1324.1 L233.4,1332.6 L228.2,1341.1 L222.9,1332.6Z" fill="#4a8522"/>
<path d="M261.3,1347.8 L266.6,1356.3 L261.3,1364.8 L256.1,1356.3Z" fill="#4a8522"/>
<path d="M297.4,1367.3 L302.6,1375.8 L297.4,1384.3 L292.1,1375.8Z" fill="#4a8522"/>
<path d="M334.3,1383.5 L339.6,1392.0 L334.3,1400.5 L329.1,1392.0Z" fill="#4a8522"/>
<path d="M372.6,1394.9 L377.9,1403.4 L372.6,1411.9 L367.4,1403.4Z" fill="#4a8522"/>
<path d="M413.5,1400.8 L418.8,1409.3 L413.5,1417.8 L408.2,1409.3Z" fill="#4a8522"/>
<path d="M454.2,1399.9 L459.4,1408.4 L454.2,1416.9 L448.9,1408.4Z" fill="#4a8522"/>
<path d="M494.1,1392.3 L499.4,1400.8 L494.1,1409.3 L488.9,1400.8Z" fill="#4a8522"/>
<path d="M532.6,1377.4 L537.9,1385.9 L532.6,1394.4 L527.4,1385.9Z" fill="#4a8522"/>
<path d="M567.3,1356.8 L572.5,1365.3 L567.3,1373.8 L562.0,1365.3Z" fill="#4a8522"/>
<path d="M596.4,1329.4 L601.6,1337.9 L596.4,1346.4 L591.1,1337.9Z" fill="#4a8522"/>
<path d="M621.3,1297.2 L626.5,1305.7 L621.3,1314.2 L616.0,1305.7Z" fill="#4a8522"/>
<path d="M641.1,1261.5 L646.4,1270.0 L641.1,1278.5 L635.9,1270.0Z" fill="#4a8522"/>
<path d="M654.4,1222.6 L659.6,1231.1 L654.4,1239.6 L649.1,1231.1Z" fill="#4a8522"/>
<path d="M664.2,1183.0 L669.5,1191.5 L664.2,1200.0 L659.0,1191.5Z" fill="#4a8522"/>
<path d="M669.7,1142.5 L675.0,1151.0 L669.7,1159.5 L664.5,1151.0Z" fill="#4a8522"/>
<path d="M672.3,1102.6 L677.5,1111.1 L672.3,1119.6 L667.0,1111.1Z" fill="#4a8522"/>
<path d="M672.3,1062.1 L677.5,1070.6 L672.3,1079.1 L667.0,1070.6Z" fill="#4a8522"/>
<path d="M672.3,1021.1 L677.5,1029.6 L672.3,1038.1 L667.0,1029.6Z" fill="#4a8522"/>
<rect x="156.8" y="1278.0" width="11.5" height="11.5" fill="#e8842a"/>
<rect x="186.6" y="1306.2" width="11.5" height="11.5" fill="#e8842a"/>
<rect x="217.4" y="1333.7" width="11.5" height="11.5" fill="#e8842a"/>
<rect x="249.4" y="1358.3" width="11.5" height="11.5" fill="#e8842a"/>
<rect x="284.2" y="1380.2" width="11.5" height="11.5" fill="#e8842a"/>
<rect x="319.9" y="1396.2" width="11.5" height="11.5" fill="#e8842a"/>
<rect x="359.6" y="1408.7" width="11.5" height="11.5" fill="#e8842a"/>
<rect x="400.6" y="1413.7" width="11.5" height="11.5" fill="#e8842a"/>
<rect x="439.9" y="1411.5" width="11.5" height="11.5" fill="#e8842a"/>
<rect x="479.8" y="1401.3" width="11.5" height="11.5" fill="#e8842a"/>
<rect x="516.6" y="1384.0" width="11.5" height="11.5" fill="#e8842a"/>
<rect x="550.0" y="1360.3" width="11.5" height="11.5" fill="#e8842a"/>
<rect x="578.5" y="1331.0" width="11.5" height="11.5" fill="#e8842a"/>
<rect x="602.0" y="1298.5" width="11.5" height="11.5" fill="#e8842a"/>
<rect x="621.6" y="1263.0" width="11.5" height="11.5" fill="#e8842a"/>
<rect x="636.5" y="1224.5" width="11.5" height="11.5" fill="#e8842a"/>
<rect x="646.2" y="1185.0" width="11.5" height="11.5" fill="#e8842a"/>
<rect x="655.0" y="1145.2" width="11.5" height="11.5" fill="#e8842a"/>
<rect x="659.8" y="1104.3" width="11.5" height="11.5" fill="#e8842a"/>
<rect x="663.9" y="1064.8" width="11.5" height="11.5" fill="#e8842a"/>
<rect x="666.4" y="1023.8" width="11.5" height="11.5" fill="#e8842a"/>
<line x1="162.5" y1="997.6" x2="162.5" y2="1439.1" stroke="#b4b4b4" stroke-width="1.5"/>
<line x1="262.6" y1="997.6" x2="262.6" y2="1439.1" stroke="#b4b4b4" stroke-width="1.5"/>
<line x1="362.7" y1="997.6" x2="362.7" y2="1439.1" stroke="#b4b4b4" stroke-width="1.5"/>
<line x1="462.8" y1="997.6" x2="462.8" y2="1439.1" stroke="#b4b4b4" stroke-width="1.5"/>
<line x1="562.9" y1="997.6" x2="562.9" y2="1439.1" stroke="#b4b4b4" stroke-width="1.5"/>
<line x1="663.0" y1="997.6" x2="663.0" y2="1439.1" stroke="#b4b4b4" stroke-width="1.5"/>
<line x1="126.6" y1="1383.6" x2="701.8" y2="1383.6" stroke="#b4b4b4" stroke-width="1.5"/>
<line x1="126.6" y1="1283.7" x2="701.8" y2="1283.7" stroke="#b4b4b4" stroke-width="1.5"/>
<line x1="126.6" y1="1183.8" x2="701.8" y2="1183.8" stroke="#b4b4b4" stroke-width="1.5"/>
<line x1="126.6" y1="1083.9" x2="701.8" y2="1083.9" stroke="#b4b4b4" stroke-width="1.5"/>
<line x1="162.5" y1="1439.1" x2="162.5" y2="1446.1" stroke="#000" stroke-width="1.6"/>
<line x1="262.6" y1="1439.1" x2="262.6" y2="1446.1" stroke="#000" stroke-width="1.6"/>
<line x1="362.7" y1="1439.1" x2="362.7" y2="1446.1" stroke="#000" stroke-width="1.6"/>
<line x1="462.8" y1="1439.1" x2="462.8" y2="1446.1" stroke="#000" stroke-width="1.6"/>
<line x1="562.9" y1="1439.1" x2="562.9" y2="1446.1" stroke="#000" stroke-width="1.6"/>
<line x1="663.0" y1="1439.1" x2="663.0" y2="1446.1" stroke="#000" stroke-width="1.6"/>
<line x1="119.6" y1="1383.6" x2="126.6" y2="1383.6" stroke="#000" stroke-width="1.6"/>
<line x1="119.6" y1="1283.7" x2="126.6" y2="1283.7" stroke="#000" stroke-width="1.6"/>
<line x1="119.6" y1="1183.8" x2="126.6" y2="1183.8" stroke="#000" stroke-width="1.6"/>
<line x1="119.6" y1="1083.9" x2="126.6" y2="1083.9" stroke="#000" stroke-width="1.6"/>
<rect x="126.6" y="997.6" width="575.1999999999999" height="441.4999999999999" fill="none" stroke="#000" stroke-width="1.6"/>
<g>
<text transform="translate(162.5 1471.2) scale(1.02 1)" text-anchor="middle">0.0</text>
<text transform="translate(262.6 1471.2) scale(1.02 1)" text-anchor="middle">0.1</text>
<text transform="translate(362.7 1471.2) scale(1.02 1)" text-anchor="middle">0.2</text>
<text transform="translate(462.8 1471.2) scale(1.02 1)" text-anchor="middle">0.3</text>
<text transform="translate(562.9 1471.2) scale(1.02 1)" text-anchor="middle">0.4</text>
<text transform="translate(663.0 1471.2) scale(1.02 1)" text-anchor="middle">0.5</text>
</g>
<text transform="translate(113.4 1392.7) scale(1.02 1)" text-anchor="end">−0.1</text>
<text transform="translate(113.4 1292.8) scale(1.02 1)" text-anchor="end">0.0</text>
<text transform="translate(113.4 1192.9) scale(1.02 1)" text-anchor="end">0.1</text>
<text transform="translate(113.4 1093.0) scale(1.02 1)" text-anchor="end">0.2</text>
<text transform="translate(34.0 1218.3) rotate(-90) scale(1.068 1)" font-size="25.8" text-anchor="middle">y (m)</text>
<text transform="translate(414.2 1502.6) scale(1.107 1)" font-size="25" text-anchor="middle">x (m)</text>
</g>
<g font-family="DejaVu Sans, sans-serif" font-size="35.5" fill="#000">
<rect x="963.4" y="586.6" width="780.1999999999999" height="368.79999999999995" fill="#fff"/>
<path d="M999.6,717.5 L1002.5,722.8 L1005.7,727.9 L1008.9,733.0 L1012.3,737.9 L1015.7,742.7 L1019.3,747.4 L1023.0,752.1 L1026.8,756.7 L1030.6,761.2 L1034.5,765.6 L1038.5,770.0 L1042.6,774.4 L1046.7,778.7 L1050.8,782.9 L1055.0,787.2 L1059.2,791.4 L1063.4,795.6 L1067.6,799.8 L1071.9,804.0 L1076.1,808.2 L1080.3,812.4 L1084.6,816.6 L1088.8,820.8 L1093.1,825.0 L1097.4,829.1 L1101.7,833.3 L1106.0,837.3 L1110.4,841.4 L1114.8,845.4 L1119.2,849.4 L1123.7,853.3 L1128.3,857.2 L1132.8,861.0 L1137.5,864.8 L1142.2,868.4 L1146.9,872.0 L1151.8,875.6 L1156.6,879.0 L1161.5,882.4 L1166.5,885.7 L1171.5,889.0 L1176.6,892.1 L1181.7,895.2 L1186.9,898.1 L1192.1,901.0 L1197.4,903.8 L1202.7,906.5 L1208.1,909.1 L1213.5,911.6 L1218.9,914.1 L1224.4,916.4 L1229.9,918.6 L1235.4,920.7 L1241.0,922.7 L1246.6,924.6 L1252.2,926.4 L1257.9,928.1 L1263.6,929.7 L1269.4,931.2 L1275.1,932.5 L1280.9,933.7 L1286.8,934.9 L1292.6,935.9 L1298.5,936.7 L1304.4,937.5 L1310.3,938.1 L1316.2,938.6 L1322.1,938.9 L1328.1,939.2 L1334.1,939.3 L1340.1,939.2 L1346.1,939.0 L1352.1,938.7 L1358.1,938.3 L1364.1,937.7 L1370.1,937.0 L1376.0,936.2 L1381.9,935.2 L1387.8,934.1 L1393.7,932.8 L1399.5,931.5 L1405.3,930.0 L1411.0,928.3 L1416.7,926.6 L1422.3,924.7 L1427.9,922.7 L1433.4,920.6 L1438.9,918.4 L1444.4,916.1 L1449.8,913.7 L1455.2,911.2 L1460.5,908.6 L1465.8,905.8 L1471.0,903.0 L1476.2,900.1 L1481.4,897.2 L1486.5,894.1 L1491.5,890.9 L1496.6,887.7 L1501.5,884.4 L1506.4,881.0 L1511.3,877.5 L1516.1,873.9 L1520.8,870.3 L1525.5,866.6 L1530.2,862.8 L1534.8,859.0 L1539.3,855.1 L1543.8,851.1 L1548.2,847.1 L1552.6,843.0 L1556.8,838.8 L1561.1,834.6 L1565.2,830.4 L1569.3,826.0 L1573.4,821.7 L1577.4,817.2 L1581.3,812.8 L1585.2,808.3 L1589.0,803.7 L1592.7,799.1 L1596.4,794.4 L1600.1,789.7 L1603.7,785.0 L1607.2,780.3 L1610.7,775.5 L1614.2,770.6 L1617.6,765.7 L1621.0,760.8 L1624.3,755.9 L1627.6,751.0 L1630.9,746.0 L1634.1,741.0 L1637.3,735.9 L1640.5,730.9 L1643.6,725.8 L1646.7,720.7 L1649.8,715.6 L1652.9,710.5 L1655.9,705.3 L1658.9,700.2 L1661.9,695.0 L1664.9,689.9 L1667.9,684.7 L1670.8,679.5 L1673.7,674.3 L1676.5,669.0 L1679.3,663.8 L1682.1,658.5 L1684.9,653.2 L1687.6,647.9 L1690.2,642.6 L1692.8,637.2 L1695.4,631.9 L1697.9,626.5 L1700.3,621.0 L1702.7,615.6 L1705.0,610.1 L1707.3,604.6" fill="none" stroke="#4878b4" stroke-width="15.2" stroke-linecap="round" stroke-linejoin="round"/>
<path d="M1010.3,721.7 L1017.0,732.7 L1010.3,743.7 L1003.5,732.7Z" fill="#4a8522"/>
<path d="M1072.2,787.6 L1079.0,798.6 L1072.2,809.6 L1065.5,798.6Z" fill="#4a8522"/>
<path d="M1140.6,850.0 L1147.3,861.0 L1140.6,872.0 L1133.8,861.0Z" fill="#4a8522"/>
<path d="M1217.8,897.8 L1224.5,908.8 L1217.8,919.8 L1211.0,908.8Z" fill="#4a8522"/>
<path d="M1307.2,924.2 L1314.0,935.2 L1307.2,946.2 L1300.5,935.2Z" fill="#4a8522"/>
<path d="M1399.4,927.6 L1406.2,938.6 L1399.4,949.6 L1392.7,938.6Z" fill="#4a8522"/>
<path d="M1484.7,897.8 L1491.5,908.8 L1484.7,919.8 L1478.0,908.8Z" fill="#4a8522"/>
<path d="M1560.2,842.9 L1567.0,853.9 L1560.2,864.9 L1553.5,853.9Z" fill="#4a8522"/>
<path d="M1617.0,771.5 L1623.8,782.5 L1617.0,793.5 L1610.2,782.5Z" fill="#4a8522"/>
<path d="M1662.1,691.0 L1668.8,702.0 L1662.1,713.0 L1655.3,702.0Z" fill="#4a8522"/>
<path d="M1699.4,605.6 L1706.2,616.6 L1699.4,627.6 L1692.7,616.6Z" fill="#4a8522"/>
<rect x="1002.8" y="725.2" width="15" height="15" fill="#e8842a"/>
<rect x="1063.1" y="794.1" width="15" height="15" fill="#e8842a"/>
<rect x="1128.6" y="857.3" width="15" height="15" fill="#e8842a"/>
<rect x="1207.6" y="905.8" width="15" height="15" fill="#e8842a"/>
<rect x="1294.9" y="931.1" width="15" height="15" fill="#e8842a"/>
<rect x="1386.8" y="927.9" width="15" height="15" fill="#e8842a"/>
<rect x="1472.2" y="895.8" width="15" height="15" fill="#e8842a"/>
<rect x="1546.3" y="842.5" width="15" height="15" fill="#e8842a"/>
<rect x="1604.7" y="772.0" width="15" height="15" fill="#e8842a"/>
<rect x="1651.8" y="691.5" width="15" height="15" fill="#e8842a"/>
<rect x="1691.9" y="609.1" width="15" height="15" fill="#e8842a"/>
<line x1="1011.0" y1="586.6" x2="1011.0" y2="955.4" stroke="#b4b4b4" stroke-width="1.9"/>
<line x1="1236.7" y1="586.6" x2="1236.7" y2="955.4" stroke="#b4b4b4" stroke-width="1.9"/>
<line x1="1462.4" y1="586.6" x2="1462.4" y2="955.4" stroke="#b4b4b4" stroke-width="1.9"/>
<line x1="1688.2" y1="586.6" x2="1688.2" y2="955.4" stroke="#b4b4b4" stroke-width="1.9"/>
<line x1="963.4" y1="845.5" x2="1743.6" y2="845.5" stroke="#b4b4b4" stroke-width="1.9"/>
<line x1="963.4" y1="732.5" x2="1743.6" y2="732.5" stroke="#b4b4b4" stroke-width="1.9"/>
<line x1="963.4" y1="619.5" x2="1743.6" y2="619.5" stroke="#b4b4b4" stroke-width="1.9"/>
<line x1="1011.0" y1="955.4" x2="1011.0" y2="963.9" stroke="#000" stroke-width="2.0"/>
<line x1="1236.7" y1="955.4" x2="1236.7" y2="963.9" stroke="#000" stroke-width="2.0"/>
<line x1="1462.4" y1="955.4" x2="1462.4" y2="963.9" stroke="#000" stroke-width="2.0"/>
<line x1="1688.2" y1="955.4" x2="1688.2" y2="963.9" stroke="#000" stroke-width="2.0"/>
<line x1="954.9" y1="845.5" x2="963.4" y2="845.5" stroke="#000" stroke-width="2.0"/>
<line x1="954.9" y1="732.5" x2="963.4" y2="732.5" stroke="#000" stroke-width="2.0"/>
<line x1="954.9" y1="619.5" x2="963.4" y2="619.5" stroke="#000" stroke-width="2.0"/>
<rect x="963.4" y="586.6" width="780.1999999999999" height="368.79999999999995" fill="none" stroke="#000" stroke-width="2.0"/>
<clipPath id="clip963_586"><rect x="0" y="0" width="1772" height="996.5"/></clipPath>
<g clip-path="url(#clip963_586)">
<text transform="translate(1011.0 997.9)" text-anchor="middle">0.0</text>
<text transform="translate(1236.7 997.9)" text-anchor="middle">0.2</text>
<text transform="translate(1462.4 997.9)" text-anchor="middle">0.4</text>
<text transform="translate(1688.2 997.9)" text-anchor="middle">0.6</text>
</g>
<text transform="translate(946.6 859.0)" text-anchor="end">−0.1</text>
<text transform="translate(946.6 746.0)" text-anchor="end">0.0</text>
<text transform="translate(946.6 633.0)" text-anchor="end">0.1</text>
<text transform="translate(839.0 771.0) rotate(-90) scale(1.095 1)" font-size="34" text-anchor="middle">y (m)</text>
</g>
<g font-family="DejaVu Sans, sans-serif" font-size="35.5" fill="#000">
<rect x="963.4" y="1007.5" width="780.1999999999999" height="369.79999999999995" fill="#fff"/>
<path d="M999.6,1138.0 L1002.5,1143.3 L1005.7,1148.4 L1008.9,1153.5 L1012.3,1158.4 L1015.7,1163.2 L1019.3,1167.9 L1023.0,1172.6 L1026.8,1177.2 L1030.6,1181.7 L1034.5,1186.1 L1038.5,1190.5 L1042.6,1194.9 L1046.7,1199.2 L1050.8,1203.4 L1055.0,1207.7 L1059.2,1211.9 L1063.4,1216.1 L1067.6,1220.3 L1071.9,1224.5 L1076.1,1228.7 L1080.3,1232.9 L1084.6,1237.1 L1088.8,1241.3 L1093.1,1245.5 L1097.4,1249.6 L1101.7,1253.8 L1106.0,1257.8 L1110.4,1261.9 L1114.8,1265.9 L1119.2,1269.9 L1123.7,1273.8 L1128.3,1277.7 L1132.8,1281.5 L1137.5,1285.3 L1142.2,1288.9 L1146.9,1292.5 L1151.8,1296.1 L1156.6,1299.5 L1161.5,1302.9 L1166.5,1306.2 L1171.5,1309.5 L1176.6,1312.6 L1181.7,1315.7 L1186.9,1318.6 L1192.1,1321.5 L1197.4,1324.3 L1202.7,1327.0 L1208.1,1329.6 L1213.5,1332.1 L1218.9,1334.6 L1224.4,1336.9 L1229.9,1339.1 L1235.4,1341.2 L1241.0,1343.2 L1246.6,1345.1 L1252.2,1346.9 L1257.9,1348.6 L1263.6,1350.2 L1269.4,1351.7 L1275.1,1353.0 L1280.9,1354.2 L1286.8,1355.4 L1292.6,1356.4 L1298.5,1357.2 L1304.4,1358.0 L1310.3,1358.6 L1316.2,1359.1 L1322.1,1359.4 L1328.1,1359.7 L1334.1,1359.8 L1340.1,1359.7 L1346.1,1359.5 L1352.1,1359.2 L1358.1,1358.8 L1364.1,1358.2 L1370.1,1357.5 L1376.0,1356.7 L1381.9,1355.7 L1387.8,1354.6 L1393.7,1353.3 L1399.5,1352.0 L1405.3,1350.5 L1411.0,1348.8 L1416.7,1347.1 L1422.3,1345.2 L1427.9,1343.2 L1433.4,1341.1 L1438.9,1338.9 L1444.4,1336.6 L1449.8,1334.2 L1455.2,1331.7 L1460.5,1329.1 L1465.8,1326.3 L1471.0,1323.5 L1476.2,1320.6 L1481.4,1317.7 L1486.5,1314.6 L1491.5,1311.4 L1496.6,1308.2 L1501.5,1304.9 L1506.4,1301.5 L1511.3,1298.0 L1516.1,1294.4 L1520.8,1290.8 L1525.5,1287.1 L1530.2,1283.3 L1534.8,1279.5 L1539.3,1275.6 L1543.8,1271.6 L1548.2,1267.6 L1552.6,1263.5 L1556.8,1259.3 L1561.1,1255.1 L1565.2,1250.9 L1569.3,1246.5 L1573.4,1242.2 L1577.4,1237.7 L1581.3,1233.3 L1585.2,1228.8 L1589.0,1224.2 L1592.7,1219.6 L1596.4,1214.9 L1600.1,1210.2 L1603.7,1205.5 L1607.2,1200.8 L1610.7,1196.0 L1614.2,1191.1 L1617.6,1186.2 L1621.0,1181.3 L1624.3,1176.4 L1627.6,1171.5 L1630.9,1166.5 L1634.1,1161.5 L1637.3,1156.4 L1640.5,1151.4 L1643.6,1146.3 L1646.7,1141.2 L1649.8,1136.1 L1652.9,1131.0 L1655.9,1125.8 L1658.9,1120.7 L1661.9,1115.5 L1664.9,1110.4 L1667.9,1105.2 L1670.8,1100.0 L1673.7,1094.8 L1676.5,1089.5 L1679.3,1084.3 L1682.1,1079.0 L1684.9,1073.7 L1687.6,1068.4 L1690.2,1063.1 L1692.8,1057.7 L1695.4,1052.4 L1697.9,1047.0 L1700.3,1041.5 L1702.7,1036.1 L1705.0,1030.6 L1707.3,1025.1" fill="none" stroke="#4878b4" stroke-width="15.2" stroke-linecap="round" stroke-linejoin="round"/>
<path d="M1010.3,1141.7 L1017.0,1152.7 L1010.3,1163.7 L1003.5,1152.7Z" fill="#4a8522"/>
<path d="M1040.6,1174.5 L1047.3,1185.5 L1040.6,1196.5 L1033.8,1185.5Z" fill="#4a8522"/>
<path d="M1072.2,1208.3 L1079.0,1219.3 L1072.2,1230.3 L1065.5,1219.3Z" fill="#4a8522"/>
<path d="M1106.0,1239.9 L1112.8,1250.9 L1106.0,1261.9 L1099.2,1250.9Z" fill="#4a8522"/>
<path d="M1141.3,1268.6 L1148.0,1279.6 L1141.3,1290.6 L1134.5,1279.6Z" fill="#4a8522"/>
<path d="M1179.6,1296.4 L1186.3,1307.4 L1179.6,1318.4 L1172.8,1307.4Z" fill="#4a8522"/>
<path d="M1219.6,1317.8 L1226.3,1328.8 L1219.6,1339.8 L1212.8,1328.8Z" fill="#4a8522"/>
<path d="M1261.8,1334.7 L1268.5,1345.7 L1261.8,1356.7 L1255.0,1345.7Z" fill="#4a8522"/>
<path d="M1307.2,1344.9 L1314.0,1355.9 L1307.2,1366.9 L1300.5,1355.9Z" fill="#4a8522"/>
<path d="M1352.3,1350.5 L1359.0,1361.5 L1352.3,1372.5 L1345.5,1361.5Z" fill="#4a8522"/>
<path d="M1397.8,1348.3 L1404.5,1359.3 L1397.8,1370.3 L1391.0,1359.3Z" fill="#4a8522"/>
<path d="M1442.8,1335.7 L1449.5,1346.7 L1442.8,1357.7 L1436.0,1346.7Z" fill="#4a8522"/>
<path d="M1484.7,1317.4 L1491.5,1328.4 L1484.7,1339.4 L1478.0,1328.4Z" fill="#4a8522"/>
<path d="M1523.2,1293.3 L1530.0,1304.3 L1523.2,1315.3 L1516.5,1304.3Z" fill="#4a8522"/>
<path d="M1558.6,1262.9 L1565.3,1273.9 L1558.6,1284.9 L1551.8,1273.9Z" fill="#4a8522"/>
<path d="M1590.0,1229.3 L1596.8,1240.3 L1590.0,1251.3 L1583.2,1240.3Z" fill="#4a8522"/>
<path d="M1617.0,1192.0 L1623.8,1203.0 L1617.0,1214.0 L1610.2,1203.0Z" fill="#4a8522"/>
<path d="M1640.8,1153.3 L1647.5,1164.3 L1640.8,1175.3 L1634.0,1164.3Z" fill="#4a8522"/>
<path d="M1662.1,1112.1 L1668.8,1123.1 L1662.1,1134.1 L1655.3,1123.1Z" fill="#4a8522"/>
<path d="M1680.4,1069.5 L1687.2,1080.5 L1680.4,1091.5 L1673.7,1080.5Z" fill="#4a8522"/>
<path d="M1699.4,1027.4 L1706.2,1038.4 L1699.4,1049.4 L1692.7,1038.4Z" fill="#4a8522"/>
<rect x="1002.8" y="1145.2" width="15" height="15" fill="#e8842a"/>
<rect x="1031.1" y="1180.9" width="15" height="15" fill="#e8842a"/>
<rect x="1061.5" y="1214.5" width="15" height="15" fill="#e8842a"/>
<rect x="1093.6" y="1247.9" width="15" height="15" fill="#e8842a"/>
<rect x="1128.6" y="1278.0" width="15" height="15" fill="#e8842a"/>
<rect x="1165.4" y="1304.8" width="15" height="15" fill="#e8842a"/>
<rect x="1207.6" y="1326.9" width="15" height="15" fill="#e8842a"/>
<rect x="1249.3" y="1341.6" width="15" height="15" fill="#e8842a"/>
<rect x="1294.9" y="1351.8" width="15" height="15" fill="#e8842a"/>
<rect x="1340.1" y="1353.6" width="15" height="15" fill="#e8842a"/>
<rect x="1386.8" y="1348.3" width="15" height="15" fill="#e8842a"/>
<rect x="1430.3" y="1335.1" width="15" height="15" fill="#e8842a"/>
<rect x="1472.2" y="1316.3" width="15" height="15" fill="#e8842a"/>
<rect x="1510.9" y="1291.6" width="15" height="15" fill="#e8842a"/>
<rect x="1546.3" y="1261.8" width="15" height="15" fill="#e8842a"/>
<rect x="1576.3" y="1227.7" width="15" height="15" fill="#e8842a"/>
<rect x="1604.7" y="1191.1" width="15" height="15" fill="#e8842a"/>
<rect x="1630.1" y="1153.4" width="15" height="15" fill="#e8842a"/>
<rect x="1651.8" y="1112.0" width="15" height="15" fill="#e8842a"/>
<rect x="1671.7" y="1071.9" width="15" height="15" fill="#e8842a"/>
<rect x="1691.9" y="1030.3" width="15" height="15" fill="#e8842a"/>
<line x1="1011.0" y1="1007.5" x2="1011.0" y2="1377.3" stroke="#b4b4b4" stroke-width="1.9"/>
<line x1="1236.7" y1="1007.5" x2="1236.7" y2="1377.3" stroke="#b4b4b4" stroke-width="1.9"/>
<line x1="1462.4" y1="1007.5" x2="1462.4" y2="1377.3" stroke="#b4b4b4" stroke-width="1.9"/>
<line x1="1688.2" y1="1007.5" x2="1688.2" y2="1377.3" stroke="#b4b4b4" stroke-width="1.9"/>
<line x1="963.4" y1="1266.0" x2="1743.6" y2="1266.0" stroke="#b4b4b4" stroke-width="1.9"/>
<line x1="963.4" y1="1153.0" x2="1743.6" y2="1153.0" stroke="#b4b4b4" stroke-width="1.9"/>
<line x1="963.4" y1="1040.0" x2="1743.6" y2="1040.0" stroke="#b4b4b4" stroke-width="1.9"/>
<line x1="1011.0" y1="1377.3" x2="1011.0" y2="1385.8" stroke="#000" stroke-width="2.0"/>
<line x1="1236.7" y1="1377.3" x2="1236.7" y2="1385.8" stroke="#000" stroke-width="2.0"/>
<line x1="1462.4" y1="1377.3" x2="1462.4" y2="1385.8" stroke="#000" stroke-width="2.0"/>
<line x1="1688.2" y1="1377.3" x2="1688.2" y2="1385.8" stroke="#000" stroke-width="2.0"/>
<line x1="954.9" y1="1266.0" x2="963.4" y2="1266.0" stroke="#000" stroke-width="2.0"/>
<line x1="954.9" y1="1153.0" x2="963.4" y2="1153.0" stroke="#000" stroke-width="2.0"/>
<line x1="954.9" y1="1040.0" x2="963.4" y2="1040.0" stroke="#000" stroke-width="2.0"/>
<rect x="963.4" y="1007.5" width="780.1999999999999" height="369.79999999999995" fill="none" stroke="#000" stroke-width="2.0"/>
<g>
<text transform="translate(1011.0 1419.8)" text-anchor="middle">0.0</text>
<text transform="translate(1236.7 1419.8)" text-anchor="middle">0.2</text>
<text transform="translate(1462.4 1419.8)" text-anchor="middle">0.4</text>
<text transform="translate(1688.2 1419.8)" text-anchor="middle">0.6</text>
</g>
<text transform="translate(946.6 1279.5)" text-anchor="end">−0.1</text>
<text transform="translate(946.6 1166.5)" text-anchor="end">0.0</text>
<text transform="translate(946.6 1053.5)" text-anchor="end">0.1</text>
<text transform="translate(839.0 1192.4) rotate(-90) scale(1.095 1)" font-size="34" text-anchor="middle">y (m)</text>
<text transform="translate(1353.5 1464.0) scale(1.09 1)" font-size="34.3" text-anchor="middle">x (m)</text>
</g>
<rect x="116.1" y="518.6" width="161.7" height="72.3" fill="#f0c02e"/>
<text transform="translate(150.5 568.8) scale(1.088 1)" font-family="Liberation Sans, sans-serif" font-size="37.8" fill="#000">n=10</text>
<rect x="162.9" y="1016.4" width="161.7" height="71" fill="#f0c02e"/>
<text transform="translate(196.5 1066.3) scale(1.088 1)" font-family="Liberation Sans, sans-serif" font-size="37.8" fill="#000">n=20</text>
<rect x="956.6" y="597.3" width="147.3" height="72.4" fill="#f0c02e"/>
<text transform="translate(981.5 648) scale(1.11 1)" font-family="Liberation Sans, sans-serif" font-size="38.5" fill="#000">n=10</text>
<rect x="957.1" y="1021.5" width="147.3" height="72.4" fill="#f0c02e"/>
<text transform="translate(981.5 1072.2) scale(1.11 1)" font-family="Liberation Sans, sans-serif" font-size="38.5" fill="#000">n=20</text>
<g font-family="DejaVu Sans, sans-serif" font-size="33.6" fill="#000">
<rect x="49.7" y="1516.6" width="708.9" height="67.60000000000014" rx="6" fill="#7f7f7f"/>
<rect x="44.7" y="1511.6" width="708.9" height="67.60000000000014" rx="6" fill="#fff" stroke="#cccccc" stroke-width="2"/>
<circle cx="93.9" cy="1549.4" r="7.6" fill="#4878b4"/>
<text transform="translate(155.3 1557.4) scale(1.045 1)">Hardware</text>
<path d="M428.5,1535.6 L437.5,1549.1 L428.5,1562.6 L419.5,1549.1Z" fill="#4a8522"/>
<text transform="translate(491.5 1557.0) scale(1.045 1)" font-style="italic">α</text><text transform="translate(516.0 1543.5) scale(1.045 1)" font-size="23.5">0</text>
<rect x="628.5" y="1540.6" width="17.6" height="17.6" fill="#e8842a"/>
<text transform="translate(702.5 1557.0) scale(1.045 1)" font-style="italic">α</text><text transform="translate(726.0 1543.5) scale(1.045 1)" font-size="23.5" font-style="italic">f</text>
</g>
<g font-family="DejaVu Sans, sans-serif" font-size="42.8" fill="#000">
<rect x="863.2" y="1485.9" width="901.8" height="87.59999999999991" rx="6" fill="#7f7f7f"/>
<rect x="857.7" y="1480.4" width="901.8" height="87.59999999999991" rx="6" fill="#fff" stroke="#cccccc" stroke-width="2"/>
<circle cx="920.5" cy="1527.8" r="9.3" fill="#4878b4"/>
<text transform="translate(998.2 1538.8) scale(1.035 1)">Hardware</text>
<path d="M1345.8,1511 L1357,1527.7 L1345.8,1544.4 L1334.6,1527.7Z" fill="#4a8522"/>
<text transform="translate(1426.0 1537.0) scale(1.035 1)" font-style="italic">α</text><text transform="translate(1457.5 1520.5) scale(1.035 1)" font-size="30.0">0</text>
<rect x="1600.4" y="1516.4" width="22.6" height="22.6" fill="#e8842a"/>
<text transform="translate(1693.8 1537.0) scale(1.035 1)" font-style="italic">α</text><text transform="translate(1724.8 1520.5) scale(1.035 1)" font-size="30.0" font-style="italic">f</text>
</g>
<g font-family="Liberation Serif, serif" font-weight="bold" font-size="47.5" fill="#000">
<text x="13.3" y="1659">a</text>
<clipPath id="clipb"><rect x="880" y="1600" width="38.3" height="61"/></clipPath>
<text x="890.2" y="1659" clip-path="url(#clipb)">b<tspan dx="-3">.</tspan></text>
</g>
</svg>
</body></html>
